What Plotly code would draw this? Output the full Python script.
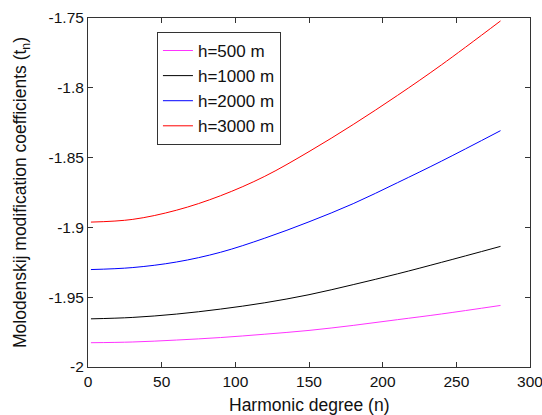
import plotly.graph_objects as go

n_vals = [2, 30, 60, 90, 120, 150, 180, 210, 240, 280]
t_500 = [-1.9826, -1.9821, -1.9807, -1.9789, -1.9765, -1.9738, -1.9702, -1.9661, -1.9620, -1.9559]
t_1000 = [-1.9655, -1.9645, -1.9621, -1.9585, -1.9540, -1.9482, -1.9410, -1.9333, -1.9250, -1.9136]
t_2000 = [-1.9302, -1.9288, -1.9248, -1.9178, -1.9077, -1.8960, -1.8830, -1.8680, -1.8525, -1.8307]
t_3000 = [-1.8962, -1.8943, -1.8877, -1.8773, -1.8634, -1.8457, -1.8263, -1.8055, -1.7835, -1.7521]

series = [
    ("h=500 m", t_500, "#ff33ff"),
    ("h=1000 m", t_1000, "#000000"),
    ("h=2000 m", t_2000, "#0000ff"),
    ("h=3000 m", t_3000, "#ff0000"),
]

fig = go.Figure()
for name, vals, col in series:
    fig.add_trace(go.Scatter(x=n_vals, y=vals, mode="lines", name=name,
                             line=dict(color=col, width=1, shape="spline", smoothing=1.0)))

axis_common = dict(showgrid=False, zeroline=False, showline=True, linecolor="#333333",
                   linewidth=1, mirror="ticks", ticks="inside", ticklen=5,
                   tickcolor="#333333", tickfont=dict(size=15.5, color="#111111"),
                   automargin=False, ticklabeloverflow="allow")

fig.update_layout(
    width=542, height=415,
    margin=dict(l=88, r=12, t=18, b=48),
    paper_bgcolor="white", plot_bgcolor="white",
    font=dict(family="Liberation Sans, Arial, sans-serif", color="#111111"),
    xaxis=dict(range=[0, 300], tickvals=[0, 50, 100, 150, 200, 250, 300],
               **axis_common),
    yaxis=dict(range=[-2, -1.75], tickvals=[-2, -1.95, -1.9, -1.85, -1.8, -1.75],
               ticktext=["-2", "-1.95", "-1.9", "-1.85", "-1.8", "-1.75"],
               title=dict(text="Molodenskij modification coefficients (t<sub>n</sub>)",
                          font=dict(size=17.5), standoff=17),
               **axis_common),
    legend=dict(x=0.156, y=0.96, xanchor="left", yanchor="top",
                bgcolor="white", bordercolor="#333333", borderwidth=1,
                font=dict(size=17, color="#111111"), tracegroupgap=0),
    showlegend=True,
    annotations=[dict(text="Harmonic degree (n)", xref="paper", yref="paper",
                      x=0.5, y=-0.108, xanchor="center", yanchor="middle",
                      showarrow=False, font=dict(size=17.5, color="#111111"))],
)

fig.write_html("out.html", config={"displayModeBar": False},
               post_script="document.body.style.margin='0';document.body.style.padding='0';")
